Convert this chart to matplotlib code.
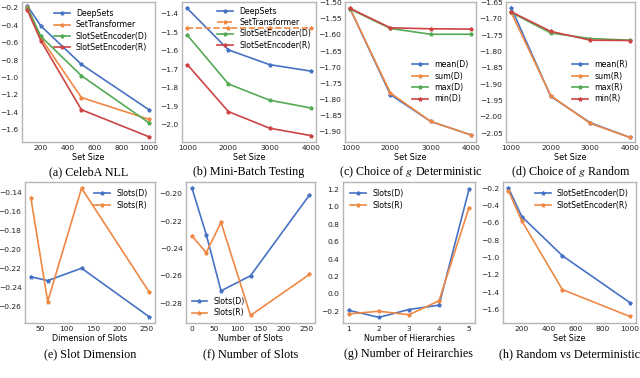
import matplotlib
matplotlib.use("Agg")
import matplotlib.pyplot as plt

# ---------------- data ----------------
set_size_a = [100, 200, 500, 1000]
deepsets_a = [-0.18, -0.41, -0.85, -1.37]
settrans_a = [-0.19, -0.55, -1.23, -1.48]
sse_d_a = [-0.20, -0.53, -0.98, -1.52]
sse_r_a = [-0.23, -0.58, -1.37, -1.68]

set_size_b = [1000, 2000, 3000, 4000]
deepsets_b = [-1.37, -1.595, -1.675, -1.71]
settrans_b = [-1.478, -1.478, -1.478, -1.478]
sse_d_b = [-1.515, -1.78, -1.868, -1.91]
sse_r_b = [-1.675, -1.93, -2.02, -2.06]

set_size_c = [1000, 2000, 3000, 4000]
mean_d = [-1.52, -1.785, -1.868, -1.91]
sum_d = [-1.52, -1.78, -1.868, -1.91]
max_d = [-1.52, -1.58, -1.598, -1.598]
min_d = [-1.518, -1.578, -1.581, -1.582]

set_size_d = [1000, 2000, 3000, 4000]
mean_r = [-1.665, -1.937, -2.018, -2.063]
sum_r = [-1.68, -1.935, -2.02, -2.063]
max_r = [-1.68, -1.743, -1.76, -1.765]
min_r = [-1.678, -1.738, -1.765, -1.766]

slot_dim = [32, 64, 128, 256]
dim_slots_d = [-0.229, -0.233, -0.220, -0.271]
dim_slots_r = [-0.146, -0.255, -0.136, -0.245]

num_slots = [1, 32, 64, 128, 256]
num_slots_d = [-0.196, -0.230, -0.271, -0.260, -0.201]
num_slots_r = [-0.231, -0.243, -0.221, -0.289, -0.259]

hier = [1, 2, 3, 4, 5]
hier_d = [-0.19, -0.27, -0.18, -0.13, 1.20]
hier_r = [-0.23, -0.20, -0.24, -0.08, 0.99]

set_size_h = [100, 200, 500, 1000]
rd_d = [-0.20, -0.53, -0.98, -1.52]
rd_r = [-0.23, -0.58, -1.37, -1.68]

captions = ["(a) CelebA NLL", "(b) Mini-Batch Testing",
            "(c) Choice of $g$ Deterministic", "(d) Choice of $g$ Random",
            "(e) Slot Dimension", "(f) Number of Slots",
            "(g) Number of Heirarchies", "(h) Random vs Deterministic"]

# ---------------- style ----------------
plt.rcParams["mathtext.fontset"] = "stix"
C = ["#4672c4", "#ee8844", "#55aa55", "#cc4444"]
W, H = 640, 378
fig = plt.figure(figsize=(W / 100, H / 100), dpi=100)
FS = 5.4

def mk(l, r, t, b):
    ax = fig.add_axes([l / W, 1 - b / H, (r - l) / W, (b - t) / H])
    for s in ax.spines.values():
        s.set_color("#b5b5b5")
        s.set_linewidth(1.0)
    ax.tick_params(length=0, labelsize=FS, colors="#222222", pad=2.5)
    return ax

def line(ax, x, y, c, lab, ls="-"):
    ax.plot(x, y, color=c, ls=ls, lw=1.2, marker="*", ms=2.8, label=lab)

def leg(ax, loc, **kw):
    kw.setdefault("borderaxespad", 0.5)
    ax.legend(loc=loc, frameon=False, fontsize=FS + 0.3, handlelength=2.0,
              labelspacing=0.3, handletextpad=0.8, **kw)

def cap(ax, txt, y):
    pos = ax.get_position()
    fig.text((pos.x0 + pos.x1) / 2, 1 - y / H, txt, ha="center", va="center",
             fontsize=8.7, family="Liberation Serif")

def xl(ax, txt):
    ax.set_xlabel(txt, fontsize=FS + 0.4, labelpad=1)

top_t, top_b = 2, 142
bot_t, bot_b = 182, 323

# (a)
ax = mk(22, 155, top_t, top_b)
line(ax, set_size_a, deepsets_a, C[0], "DeepSets")
line(ax, set_size_a, settrans_a, C[1], "SetTransformer")
line(ax, set_size_a, sse_d_a, C[2], "SlotSetEncoder(D)")
line(ax, set_size_a, sse_r_a, C[3], "SlotSetEncoder(R)")
ax.set_xticks([200, 400, 600, 800, 1000])
ax.set_yticks([-0.2, -0.4, -0.6, -0.8, -1.0, -1.2, -1.4, -1.6])
ax.set_xlim(60, 1045)
ax.set_ylim(-1.74, -0.135)
xl(ax, "Set Size")
leg(ax, "upper right")
cap(ax, captions[0], 172)

# (b)
ax = mk(182, 316, top_t, top_b)
line(ax, set_size_b, deepsets_b, C[0], "DeepSets")
line(ax, set_size_b, settrans_b, C[1], "SetTransformer", ls="--")
line(ax, set_size_b, sse_d_b, C[2], "SlotSetEncoder(D)")
line(ax, set_size_b, sse_r_b, C[3], "SlotSetEncoder(R)")
ax.set_xticks([1000, 2000, 3000, 4000])
ax.set_yticks([-1.4, -1.5, -1.6, -1.7, -1.8, -1.9, -2.0])
ax.set_xlim(870, 4130)
ax.set_ylim(-2.095, -1.335)
xl(ax, "Set Size")
leg(ax, "upper right", borderpad=0.1)
cap(ax, captions[1], 172)

# (c)
ax = mk(345, 476, top_t, top_b)
line(ax, set_size_c, mean_d, C[0], "mean(D)")
line(ax, set_size_c, sum_d, C[1], "sum(D)")
line(ax, set_size_c, max_d, C[2], "max(D)")
line(ax, set_size_c, min_d, C[3], "min(D)")
ax.set_xticks([1000, 2000, 3000, 4000])
cy = [-1.50, -1.55, -1.60, -1.65, -1.70, -1.75, -1.80, -1.85, -1.90]
ax.set_yticks(cy)
ax.set_yticklabels(["\u2212%.2f" % -v for v in cy])
ax.set_xlim(870, 4130)
ax.set_ylim(-1.932, -1.498)
xl(ax, "Set Size")
leg(ax, "center right", bbox_to_anchor=(1.0, 0.43))
cap(ax, captions[2], 172)

# (d)
ax = mk(506, 635, top_t, top_b)
line(ax, set_size_d, mean_r, C[0], "mean(R)")
line(ax, set_size_d, sum_r, C[1], "sum(R)")
line(ax, set_size_d, max_r, C[2], "max(R)")
line(ax, set_size_d, min_r, C[3], "min(R)")
ax.set_xticks([1000, 2000, 3000, 4000])
dy = [-1.65, -1.70, -1.75, -1.80, -1.85, -1.90, -1.95, -2.00, -2.05]
ax.set_yticks(dy)
ax.set_yticklabels(["\u2212%.2f" % -v for v in dy])
ax.set_xlim(870, 4130)
ax.set_ylim(-2.077, -1.648)
xl(ax, "Set Size")
leg(ax, "center right", bbox_to_anchor=(1.0, 0.43))
cap(ax, captions[3], 172)

# (e)
ax = mk(25, 155, bot_t, bot_b)
line(ax, slot_dim, dim_slots_d, C[0], "Slots(D)")
line(ax, slot_dim, dim_slots_r, C[1], "Slots(R)")
ax.set_xticks([50, 100, 150, 200, 250])
ey = [-0.14, -0.16, -0.18, -0.20, -0.22, -0.24, -0.26]
ax.set_yticks(ey)
ax.set_yticklabels(["\u2212%.2f" % -v for v in ey])
ax.set_xlim(21, 267)
ax.set_ylim(-0.2775, -0.1295)
xl(ax, "Dimension of Slots")
leg(ax, "upper right")
cap(ax, captions[4], 354)

# (f)
ax = mk(186, 315, bot_t, bot_b)
line(ax, num_slots, num_slots_d, C[0], "Slots(D)")
line(ax, num_slots, num_slots_r, C[1], "Slots(R)")
ax.set_xticks([0, 50, 100, 150, 200, 250])
fy = [-0.20, -0.22, -0.24, -0.26, -0.28]
ax.set_yticks(fy)
ax.set_yticklabels(["\u2212%.2f" % -v for v in fy])
ax.set_xlim(-12, 268)
ax.set_ylim(-0.2945, -0.1915)
xl(ax, "Number of Slots")
leg(ax, "lower left", borderaxespad=0.3)
cap(ax, captions[5], 354)

# (g)
ax = mk(343, 475, bot_t, bot_b)
line(ax, hier, hier_d, C[0], "Slots(D)")
line(ax, hier, hier_r, C[1], "Slots(R)")
ax.set_xticks([1, 2, 3, 4, 5])
gy = [-0.2, 0.0, 0.2, 0.4, 0.6, 0.8, 1.0, 1.2]
ax.set_yticks(gy)
ax.set_yticklabels([("\u2212%.1f" % -v) if v < 0 else "%.1f" % v for v in gy])
ax.set_xlim(0.8, 5.2)
ax.set_ylim(-0.335, 1.285)
xl(ax, "Number of Hierarchies")
leg(ax, "upper left")
cap(ax, captions[6], 354)

# (h)
ax = mk(503, 636, bot_t, bot_b)
line(ax, set_size_h, rd_d, C[0], "SlotSetEncoder(D)")
line(ax, set_size_h, rd_r, C[1], "SlotSetEncoder(R)")
ax.set_xticks([200, 400, 600, 800, 1000])
ax.set_yticks([-0.2, -0.4, -0.6, -0.8, -1.0, -1.2, -1.4, -1.6])
ax.set_xlim(60, 1045)
ax.set_ylim(-1.755, -0.13)
xl(ax, "Set Size")
leg(ax, "upper right")
cap(ax, captions[7], 354)

fig.savefig("out.png", dpi=100)
